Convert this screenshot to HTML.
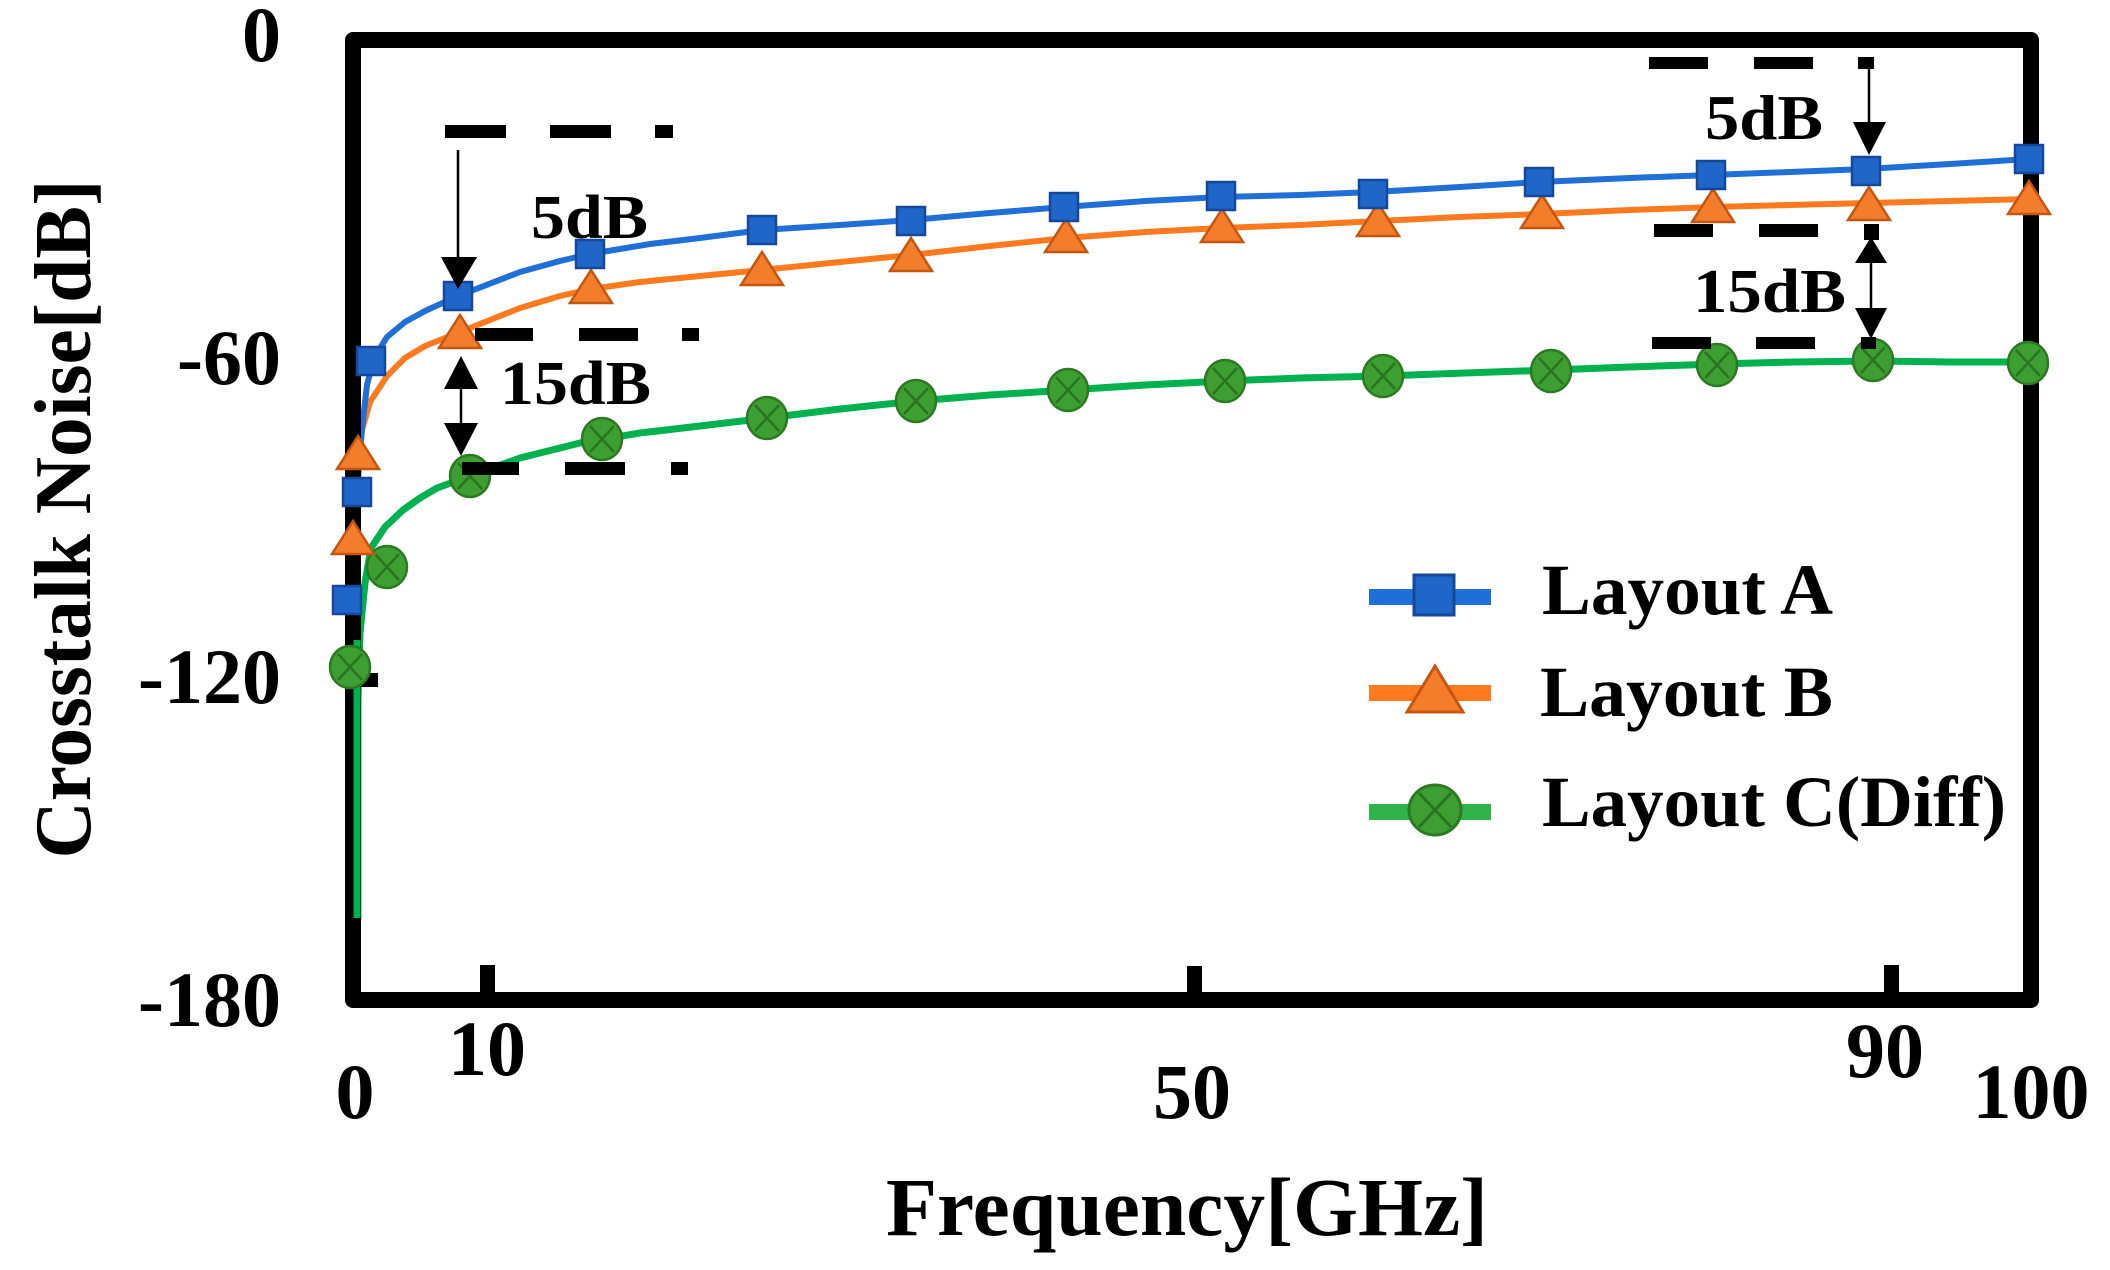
<!DOCTYPE html>
<html><head><meta charset="utf-8"><style>
html,body{margin:0;padding:0;background:#fff;}
svg{display:block;}
text{font-family:"Liberation Serif","Times New Roman",serif;font-weight:bold;fill:#000;}
</style></head><body>
<svg width="2110" height="1270" viewBox="0 0 2110 1270" xmlns="http://www.w3.org/2000/svg">
<rect width="2110" height="1270" fill="#fff"/>
<defs>
<g id="sq"><rect x="-14" y="-14" width="28" height="28" fill="#1f66c9" stroke="#16489a" stroke-width="2.5"/></g>
<g id="tri"><polygon points="0,-19 -21,14 21,14" fill="#f47d2c" stroke="#c4560f" stroke-width="2.5" stroke-linejoin="miter"/></g>
<g id="cir"><ellipse cx="0" cy="0" rx="20" ry="21" fill="#3d9f31" stroke="#2b7a22" stroke-width="2.5"/><path d="M-12,-13 L12,13 M12,-13 L-12,13" stroke="#2a7321" stroke-width="2.5"/></g>
</defs>

<!-- series lines -->
<polyline fill="none" stroke="#00b14f" stroke-width="7" stroke-linejoin="round" stroke-linecap="round" points="358,918 358,700 360,633 365,583 371,548 385,527 403,510 420,498 437,488 470,476 520,458 580,443 640,433 700,426 767,418 840,409 916,401 990,395 1068,390 1145,385 1225,381 1300,378 1383,376 1465,373 1551,370 1630,367 1717,364 1795,362 1873,361 1950,362 2028,362"/>
<polyline fill="none" stroke="#ff7a1e" stroke-width="6" stroke-linejoin="round" points="358,600 356,560 355,520 357,470 362,430 370,402 387,376 405,358 425,346 460,332 520,308 560,296 591,289 640,282 700,276 762,270 840,262 911,255 990,246 1066,238 1145,232 1222,228 1300,225 1378,221 1460,217 1542,214 1630,210 1713,207 1790,205 1869,203 1950,201 2029,199"/>
<polyline fill="none" stroke="#1f6fd6" stroke-width="6" stroke-linejoin="round" points="347,599 351,560 354,520 357,492 362,429 367,385 374,358 387,337 405,322 425,311 458,296 520,272 560,261 590,254 650,244 700,238 762,230 840,225 911,220 990,213 1064,207 1145,201 1221,197 1300,195 1373,192 1460,187 1539,182 1630,178 1711,175 1790,172 1866,169 1950,164 2029,159"/>

<!-- frame -->
<rect x="353" y="40" width="1678" height="960" fill="none" stroke="#000" stroke-width="16" stroke-linejoin="round"/>
<!-- green tail over axis -->
<line x1="357" y1="640" x2="357" y2="918" stroke="#00b14f" stroke-width="7"/>
<!-- ticks -->
<rect x="480" y="965" width="15" height="35" fill="#000"/>
<rect x="1187" y="966" width="15" height="34" fill="#000"/>
<rect x="1884" y="965" width="15" height="35" fill="#000"/>
<rect x="361" y="673" width="17" height="14" fill="#000"/>

<!-- markers -->
<g>
<use href="#cir" x="350" y="667"/><use href="#cir" x="387" y="567"/><use href="#cir" x="470" y="476"/><use href="#cir" x="602" y="439"/><use href="#cir" x="767" y="418"/><use href="#cir" x="916" y="401"/><use href="#cir" x="1068" y="390"/><use href="#cir" x="1225" y="381"/><use href="#cir" x="1383" y="376"/><use href="#cir" x="1551" y="371"/><use href="#cir" x="1717" y="365"/><use href="#cir" x="1873" y="360"/><use href="#cir" x="2028" y="363"/>
</g>
<g>
<use href="#tri" x="353" y="540"/><use href="#tri" x="358" y="455"/><use href="#tri" x="460" y="334"/><use href="#tri" x="591" y="289"/><use href="#tri" x="762" y="271"/><use href="#tri" x="911" y="257"/><use href="#tri" x="1066" y="238"/><use href="#tri" x="1222" y="228"/><use href="#tri" x="1378" y="222"/><use href="#tri" x="1542" y="214"/><use href="#tri" x="1713" y="208"/><use href="#tri" x="1869" y="206"/><use href="#tri" x="2029" y="200"/>
</g>
<g>
<use href="#sq" x="347" y="600"/><use href="#sq" x="357" y="492"/><use href="#sq" x="371" y="361"/><use href="#sq" x="458" y="296"/><use href="#sq" x="590" y="254"/><use href="#sq" x="762" y="230"/><use href="#sq" x="911" y="221"/><use href="#sq" x="1064" y="207"/><use href="#sq" x="1221" y="196"/><use href="#sq" x="1373" y="194"/><use href="#sq" x="1539" y="182"/><use href="#sq" x="1711" y="175"/><use href="#sq" x="1866" y="171"/><use href="#sq" x="2029" y="159"/>
</g>

<!-- annotation dashed lines -->
<g fill="#000">
<rect x="445" y="125" width="61" height="13"/><rect x="550" y="125" width="61" height="13"/><rect x="655" y="125" width="18" height="13"/>
<rect x="475" y="328" width="58" height="13"/><rect x="579" y="328" width="59" height="13"/><rect x="682" y="328" width="17" height="13"/>
<rect x="462" y="462" width="57" height="13"/><rect x="565" y="462" width="60" height="13"/><rect x="671" y="462" width="17" height="13"/>
<rect x="1649" y="57" width="59" height="12"/><rect x="1754" y="57" width="59" height="12"/><rect x="1858" y="57" width="16" height="12"/>
<rect x="1654" y="224" width="59" height="13"/><rect x="1759" y="224" width="59" height="13"/><rect x="1864" y="224" width="15" height="16"/>
<rect x="1652" y="337" width="59" height="12"/><rect x="1756" y="337" width="59" height="12"/><rect x="1861" y="337" width="15" height="12"/>
</g>
<!-- arrows -->
<g stroke="#000" stroke-width="2.5" fill="none">
<line x1="458" y1="150" x2="458" y2="260"/>
<line x1="461" y1="386" x2="461" y2="426"/>
<line x1="1869" y1="69" x2="1869" y2="125"/>
<line x1="1871" y1="260" x2="1871" y2="311"/>
</g>
<g fill="#000">
<polygon points="441,257 477,257 458,289"/>
<polygon points="461,356 444,389 478,389"/>
<polygon points="444,423 478,423 461,456"/>
<polygon points="1853,122 1886,122 1869,155"/>
<polygon points="1871,237 1855,263 1887,263"/>
<polygon points="1855,308 1887,308 1871,339"/>
</g>
<text x="531" y="238" font-size="62" textLength="117" lengthAdjust="spacingAndGlyphs">5dB</text>
<text x="500" y="404" font-size="62" textLength="151" lengthAdjust="spacingAndGlyphs">15dB</text>
<text x="1705" y="139" font-size="64" textLength="118" lengthAdjust="spacingAndGlyphs">5dB</text>
<text x="1693" y="312" font-size="62" textLength="153" lengthAdjust="spacingAndGlyphs">15dB</text>

<!-- y tick labels -->
<g font-size="78" text-anchor="end">
<text x="281" y="61">0</text>
<text x="281" y="384">-60</text>
<text x="281" y="703">-120</text>
<text x="281" y="1026">-180</text>
</g>
<!-- x tick labels -->
<g font-size="78" text-anchor="middle">
<text x="355" y="1118">0</text>
<text x="487" y="1075">10</text>
<text x="1192" y="1118">50</text>
<text x="1885" y="1077">90</text>
<text x="2031" y="1118">100</text>
</g>
<!-- axis titles -->
<text x="1187" y="1235" font-size="83" text-anchor="middle" textLength="602" lengthAdjust="spacingAndGlyphs">Frequency[GHz]</text>
<text transform="translate(90,519) rotate(-90)" font-size="80" text-anchor="middle" textLength="679" lengthAdjust="spacingAndGlyphs">Crosstalk Noise[dB]</text>

<!-- legend -->
<rect x="1369" y="589" width="122" height="16" fill="#1f6fd6"/>
<rect x="1414" y="575" width="40" height="40" fill="#1f66c9" stroke="#16489a" stroke-width="3"/>
<text x="1542" y="614" font-size="72" textLength="291" lengthAdjust="spacingAndGlyphs">Layout A</text>
<rect x="1369" y="685" width="122" height="16" fill="#ff7a1e"/>
<polygon points="1435,666 1407,712 1463,712" fill="#f47d2c" stroke="#c4560f" stroke-width="3"/>
<text x="1540" y="716" font-size="72" textLength="293" lengthAdjust="spacingAndGlyphs">Layout B</text>
<rect x="1369" y="804" width="122" height="16" fill="#2fb34a"/>
<ellipse cx="1435" cy="810" rx="26" ry="25" fill="#3d9f31" stroke="#2b7a22" stroke-width="3"/>
<path d="M1419,793 L1451,827 M1451,793 L1419,827" stroke="#2a7321" stroke-width="3"/>
<text x="1542" y="826" font-size="72" textLength="464" lengthAdjust="spacingAndGlyphs">Layout C(Diff)</text>
</svg>
</body></html>
